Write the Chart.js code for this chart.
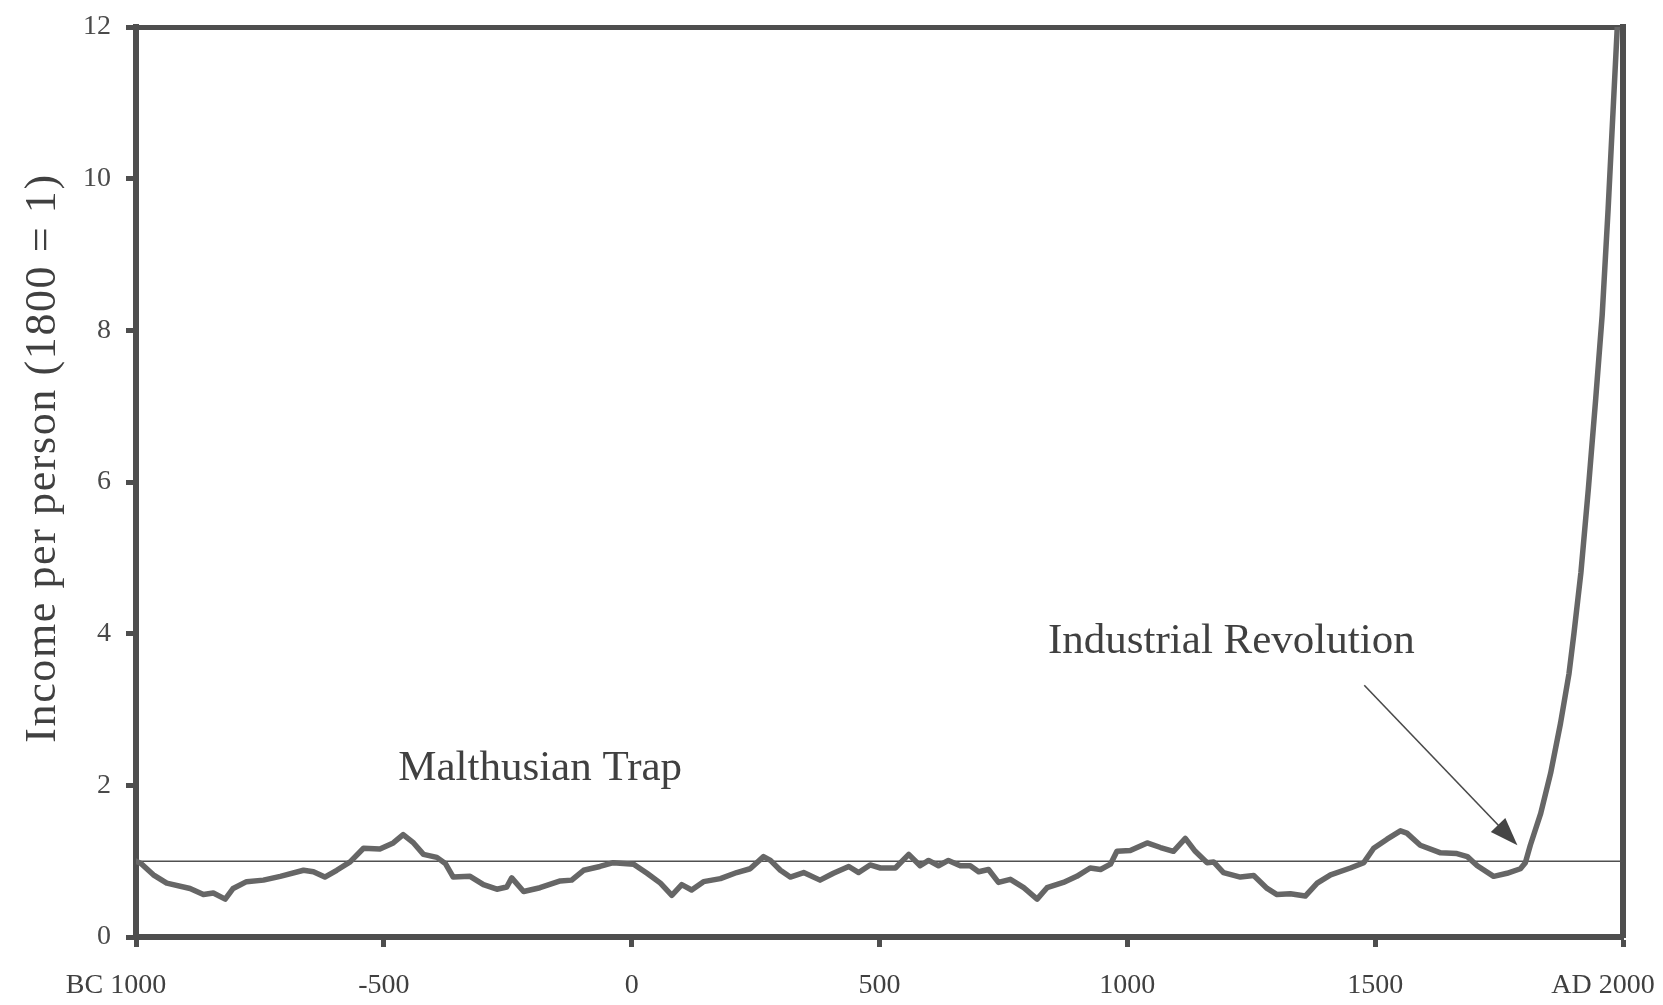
<!DOCTYPE html>
<html><head><meta charset="utf-8">
<script src="https://cdn.jsdelivr.net/npm/chart.js@4.4.1/dist/chart.umd.min.js"></script>
<style>html,body{margin:0;padding:0;background:#fff;}#wrap{width:1663px;height:1005px;}</style>
</head><body><div id="wrap"><canvas id="c" width="1663" height="1005"></canvas></div>
<script>
// ---- data ----
const years = [-1000,-990,-965,-938,-891,-864,-844,-820,-804,-777,-743,-709,-662,-642,-619,-595,-568,-541,-508,-481,-461,-440,-420,-393,-376,-360,-326,-299,-272,-252,
  -242,-218,-185,-144,-121,-97,-64,-37,4,31,58,81,101,121,145,179,212,239,266,280,300,320,347,380,407,438,458,481,502,
  532,559,582,599,619,639,663,683,700,720,740,764,791,818,838,871,898,925,946,966,979,1006,1040,1067,1093,1117,1137,1161,1174,1194,1228,1255,
  1282,1302,1329,1359,1383,1410,1450,1477,1497,1524,1551,1564,1591,1632,1665,1686,1706,1739,1766,1793,1803,1813,1834,1854,1874,1891,1901,1915,1930,1945,1958,1970,1980,1990];
const income = [1.00,0.97,0.82,0.71,0.64,0.56,0.58,0.50,0.64,0.73,0.75,0.80,0.88,0.86,0.79,0.88,0.99,1.17,1.16,1.24,1.35,1.24,1.09,1.05,0.97,0.79,0.80,0.69,0.63,0.66,
  0.78,0.60,0.65,0.74,0.75,0.88,0.93,0.98,0.96,0.84,0.71,0.55,0.69,0.62,0.73,0.77,0.85,0.90,1.06,1.01,0.88,0.79,0.85,0.75,0.84,0.93,0.85,0.95,0.91,
  0.91,1.09,0.94,1.01,0.94,1.01,0.94,0.94,0.86,0.89,0.72,0.76,0.65,0.50,0.65,0.72,0.80,0.91,0.89,0.96,1.13,1.14,1.24,1.18,1.13,1.30,1.13,0.98,0.99,0.85,0.79,0.81,
  0.64,0.56,0.57,0.54,0.71,0.82,0.91,0.98,1.17,1.29,1.40,1.37,1.21,1.11,1.10,1.06,0.94,0.80,0.84,0.90,0.98,1.21,1.63,2.16,2.82,3.47,4.00,4.80,5.90,7.10,8.20,9.60,10.90,12.20];
const refYears = [-1000, 2000];
const refIncome = [1, 1];
const xTickValues = [-1000,-500,0,500,1000,1500,2000];
const xTickLabels = ['BC 1000','-500','0','500','1000','1500','AD 2000'];
const yTickValues = [0,2,4,6,8,10,12];
const yTickLabels = ['0','2','4','6','8','10','12'];
const yTitle = 'Income per person (1800 = 1)';
const notes = [
  {text:'Malthusian Trap', year:-471, value:2.07},
  {text:'Industrial Revolution', year:840, value:3.75}
];
const arrowFrom = {year:1478, value:3.32};
const arrowTo = {year:1787, value:1.21};

// ---- styles ----
const FONT = '"Liberation Serif", "DejaVu Serif", serif';
const AXIS = '#4e4e4e';
const TXT = '#404040';
const TICK_SIZE = 28, TICK_LEN = 10, TICK_PAD = 22;
const EDGE_SHIFT = -20; // end labels sit a little left of their tick, as in the original

const isEdge = i => (i === 0 || i === xTickValues.length - 1);

const overlay = {
  id:'overlay',
  afterDatasetsDraw(chart){
    const {ctx, scales:{x, y}} = chart;
    ctx.save();
    ctx.fillStyle = TXT;
    ctx.font = '43px ' + FONT;
    ctx.textBaseline = 'alphabetic';
    ctx.textAlign = 'left';
    notes.forEach(n => ctx.fillText(n.text, x.getPixelForValue(n.year), y.getPixelForValue(n.value)));
    // arrow
    const x1 = x.getPixelForValue(arrowFrom.year), y1 = y.getPixelForValue(arrowFrom.value);
    const x2 = x.getPixelForValue(arrowTo.year), y2 = y.getPixelForValue(arrowTo.value);
    const ang = Math.atan2(y2 - y1, x2 - x1);
    const hl = 28, hw = 10;
    ctx.strokeStyle = '#4a4a4a';
    ctx.lineWidth = 1.6;
    ctx.beginPath();
    ctx.moveTo(x1, y1);
    ctx.lineTo(x2 - Math.cos(ang) * hl * 0.8, y2 - Math.sin(ang) * hl * 0.8);
    ctx.stroke();
    ctx.fillStyle = '#454545';
    ctx.beginPath();
    ctx.moveTo(x2, y2);
    ctx.lineTo(x2 - Math.cos(ang) * hl - Math.sin(ang) * hw, y2 - Math.sin(ang) * hl + Math.cos(ang) * hw);
    ctx.lineTo(x2 - Math.cos(ang) * hl + Math.sin(ang) * hw, y2 - Math.sin(ang) * hl - Math.cos(ang) * hw);
    ctx.closePath();
    ctx.fill();
    // end labels of the x axis (placed from the scale's own tick positions)
    ctx.font = TICK_SIZE + 'px ' + FONT;
    ctx.fillStyle = TXT;
    ctx.textAlign = 'center';
    ctx.textBaseline = 'middle';
    const ly = x.top + TICK_LEN + TICK_PAD + TICK_SIZE * 1.2 / 2;
    xTickValues.forEach((v, i) => {
      if (isEdge(i)) ctx.fillText(xTickLabels[i], x.getPixelForValue(v) + EDGE_SHIFT, ly);
    });
    // y axis title
    ctx.save();
    ctx.translate(43, (y.top + y.bottom) / 2 - 24);
    ctx.rotate(-Math.PI / 2);
    ctx.font = '44px ' + FONT;
    if ('letterSpacing' in ctx) ctx.letterSpacing = '1.6px';
    ctx.fillStyle = TXT;
    ctx.textAlign = 'center';
    ctx.textBaseline = 'middle';
    ctx.fillText(yTitle, 0, 0);
    ctx.restore();
    ctx.restore();
  }
};

new Chart(document.getElementById('c'), {
  type: 'line',
  data: {
    datasets: [
      {data: years.map((yr, i) => ({x: yr, y: income[i]})), borderColor: '#666666', borderWidth: 5.5,
       pointRadius: 0, tension: 0, borderJoinStyle: 'round', borderCapStyle: 'round', order: 1},
      {data: refYears.map((yr, i) => ({x: yr, y: refIncome[i]})), borderColor: '#505050', borderWidth: 1.5,
       pointRadius: 0, order: 2}
    ]
  },
  options: {
    responsive: false, animation: false, devicePixelRatio: 1,
    layout: {padding: 0},
    plugins: {legend: {display: false}, tooltip: {enabled: false}},
    scales: {
      x: {
        type: 'linear', position: 'bottom', min: -1000, max: 2000,
        afterBuildTicks: s => { s.ticks = xTickValues.map(v => ({value: v})); },
        afterFit: s => { s.height = 68; s.paddingLeft = 0; s.paddingRight = 0; },
        ticks: {callback: (v, i) => isEdge(i) ? '' : xTickLabels[i],
                font: {family: FONT, size: TICK_SIZE}, color: TXT,
                padding: TICK_PAD, maxRotation: 0, autoSkip: false},
        grid: {drawOnChartArea: false, drawTicks: true, tickLength: TICK_LEN, tickWidth: 5, tickColor: AXIS},
        border: {color: AXIS, width: 6}
      },
      y: {
        type: 'linear', position: 'left', min: 0, max: 12,
        afterBuildTicks: s => { s.ticks = yTickValues.map(v => ({value: v})); },
        afterFit: s => { s.width = 136; s.paddingTop = 0; s.paddingBottom = 0; },
        ticks: {callback: (v, i) => yTickLabels[i], font: {family: FONT, size: 28}, color: '#4a4a4a', padding: 15},
        grid: {drawOnChartArea: false, drawTicks: true, tickLength: 10, tickWidth: 5, tickColor: AXIS},
        border: {color: AXIS, width: 6}
      },
      x2: {
        type: 'linear', position: 'top', min: -1000, max: 2000,
        afterFit: s => { s.height = 27; s.paddingLeft = 0; s.paddingRight = 0; },
        ticks: {display: false}, grid: {display: false},
        border: {color: AXIS, width: 5}
      },
      y2: {
        type: 'linear', position: 'right', min: 0, max: 12,
        afterFit: s => { s.width = 40; s.paddingTop = 0; s.paddingBottom = 0; },
        ticks: {display: false}, grid: {display: false},
        border: {color: AXIS, width: 6}
      }
    }
  },
  plugins: [overlay]
});
</script></body></html>
